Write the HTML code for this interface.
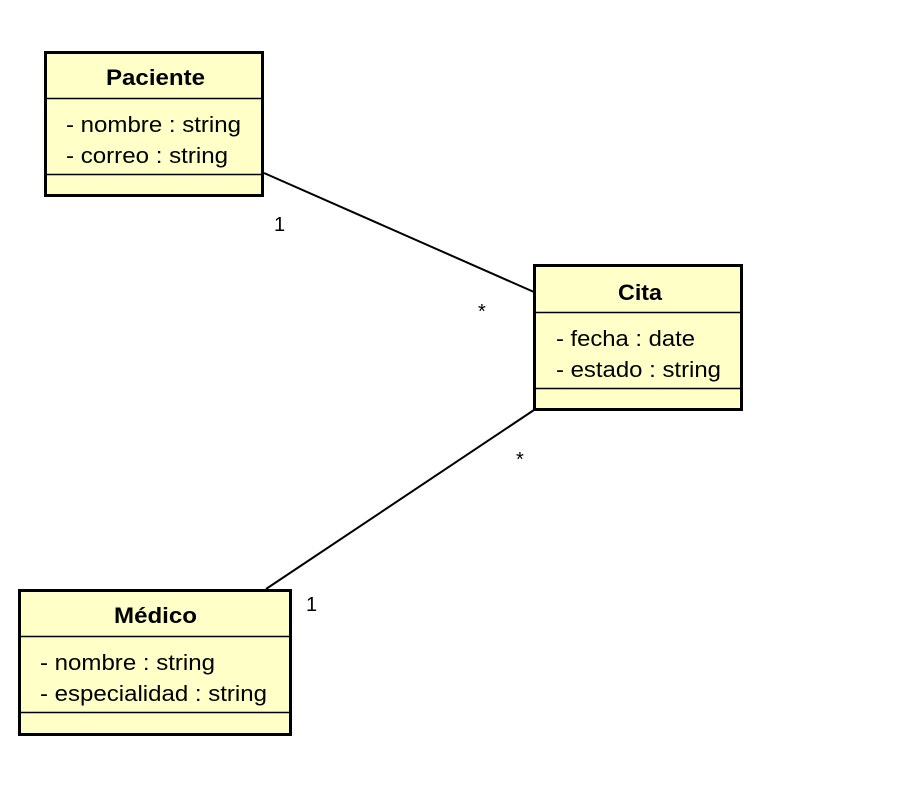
<!DOCTYPE html>
<html><head><meta charset="utf-8"><style>html,body{margin:0;padding:0;background:#fff}svg{display:block}</style></head>
<body>
<svg width="916" height="787" xmlns="http://www.w3.org/2000/svg" font-family="Liberation Sans, Arial, sans-serif" font-size="22" fill="#000">
<line x1="264" y1="173" x2="534" y2="292" stroke="#000" stroke-width="2"/>
<line x1="266" y1="589" x2="534" y2="410" stroke="#000" stroke-width="2"/>

<rect x="45.5" y="52.5" width="217" height="143" fill="#ffffc8" stroke="#000" stroke-width="3"/>
<line x1="45" y1="98.5" x2="263" y2="98.5" stroke="#000" stroke-width="1.5"/>
<line x1="45" y1="174.5" x2="263" y2="174.5" stroke="#000" stroke-width="1.5"/>
<text x="106" y="85" font-weight="bold" textLength="99" lengthAdjust="spacingAndGlyphs">Paciente</text>
<text x="66" y="132" textLength="175" lengthAdjust="spacingAndGlyphs">- nombre : string</text>
<text x="66" y="163" textLength="162" lengthAdjust="spacingAndGlyphs">- correo : string</text>

<rect x="534.5" y="265.5" width="207" height="144" fill="#ffffc8" stroke="#000" stroke-width="3"/>
<line x1="534" y1="312.5" x2="742" y2="312.5" stroke="#000" stroke-width="1.5"/>
<line x1="534" y1="388.5" x2="742" y2="388.5" stroke="#000" stroke-width="1.5"/>
<text x="618" y="300" font-weight="bold" textLength="44" lengthAdjust="spacingAndGlyphs">Cita</text>
<text x="556" y="346" textLength="139" lengthAdjust="spacingAndGlyphs">- fecha : date</text>
<text x="556" y="377" textLength="165" lengthAdjust="spacingAndGlyphs">- estado : string</text>

<rect x="19.5" y="590.5" width="271" height="144" fill="#ffffc8" stroke="#000" stroke-width="3"/>
<line x1="19" y1="636.5" x2="291" y2="636.5" stroke="#000" stroke-width="1.5"/>
<line x1="19" y1="712.5" x2="291" y2="712.5" stroke="#000" stroke-width="1.5"/>
<text x="114" y="623" font-weight="bold" textLength="83" lengthAdjust="spacingAndGlyphs">Médico</text>
<text x="40" y="670" textLength="175" lengthAdjust="spacingAndGlyphs">- nombre : string</text>
<text x="40" y="701" textLength="227" lengthAdjust="spacingAndGlyphs">- especialidad : string</text>

<text x="274" y="231" font-size="20">1</text>
<text x="478" y="318" font-size="20">*</text>
<text x="516" y="466" font-size="20">*</text>
<text x="306" y="611" font-size="20">1</text>
</svg>
</body></html>
